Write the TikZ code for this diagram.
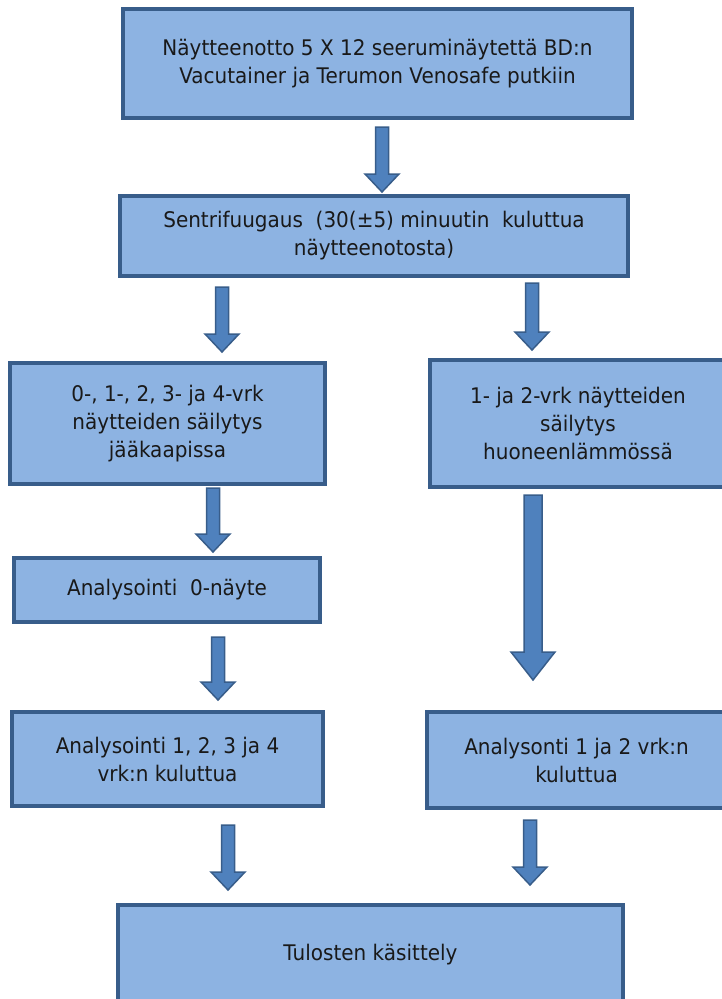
\documentclass[tikz,border=0pt]{standalone}
\usepackage{fontspec}
\setmainfont{DejaVu Sans}[FakeStretch=0.93]
\definecolor{boxfill}{HTML}{8DB3E2}
\definecolor{boxline}{HTML}{385D8A}
\definecolor{arrfill}{HTML}{4F81BD}
\tikzset{
  flowbox/.style={draw=boxline, line width=3.5pt, fill=boxfill, align=center,
    text=black!90, inner sep=0pt, font=\fontsize{21.5}{28}\selectfont},
  blockarr/.style={fill=arrfill, draw=boxline, line width=1.5pt, line join=miter}
}
\newcommand\blockarrow[6]{% x, ytop, ybottom, half shaft, half head, head length
  \filldraw[blockarr] (#1-#4,#2) -- (#1+#4,#2) -- (#1+#4,#3-#6) -- (#1+#5,#3-#6)
    -- (#1,#3) -- (#1-#5,#3-#6) -- (#1-#4,#3-#6) -- cycle;}
\begin{document}
\begin{tikzpicture}[x=1pt,y=-1pt]
\useasboundingbox (0,0) rectangle (722,999);
\clip (0,0) rectangle (722,999);
\node[flowbox, minimum width=509pt, minimum height=109pt] (b1) at (377.5,63.5)
  {Näytteenotto 5 X 12 seeruminäytettä BD:n\\Vacutainer ja Terumon Venosafe putkiin};
\node[flowbox, minimum width=508pt, minimum height=80pt] (b2) at (374,236)
  {Sentrifuugaus\ \ (30(±5) minuutin\ \ kuluttua\\näytteenotosta)};
\node[flowbox, minimum width=315pt, minimum height=121pt] (b3) at (167.5,423.5)
  {0-, 1-, 2, 3- ja 4-vrk\\näytteiden säilytys\\jääkaapissa};
\node[flowbox, minimum width=296pt, minimum height=127pt] (b4) at (578,423.5)
  {1- ja 2-vrk näytteiden\\säilytys\\huoneenlämmössä};
\node[flowbox, minimum width=306pt, minimum height=64pt] (b5) at (167,590)
  {Analysointi\ \ 0-näyte};
\node[flowbox, minimum width=311pt, minimum height=94pt] (b6) at (167.5,759)
  {Analysointi 1, 2, 3 ja 4\\vrk:n kuluttua};
\node[flowbox, minimum width=299pt, minimum height=96pt] (b7) at (576.5,760)
  {Analysonti 1 ja 2 vrk:n\\kuluttua};
\node[flowbox, minimum width=505pt, minimum height=100pt] (b8) at (370.5,955)
  {Tulosten käsittely};
\blockarrow{382}{127}{192}{6.5}{17}{18}
\blockarrow{222}{287}{352}{6.5}{17}{18}
\blockarrow{532}{283}{350}{6.5}{17}{18}
\blockarrow{213}{488}{552}{6.5}{17}{18}
\blockarrow{533}{495}{680}{9}{22}{28}
\blockarrow{218}{637}{700}{6.5}{17}{18}
\blockarrow{228}{825}{890}{6.5}{17}{18}
\blockarrow{530}{820}{885}{6.5}{17}{18}
\end{tikzpicture}
\end{document}
